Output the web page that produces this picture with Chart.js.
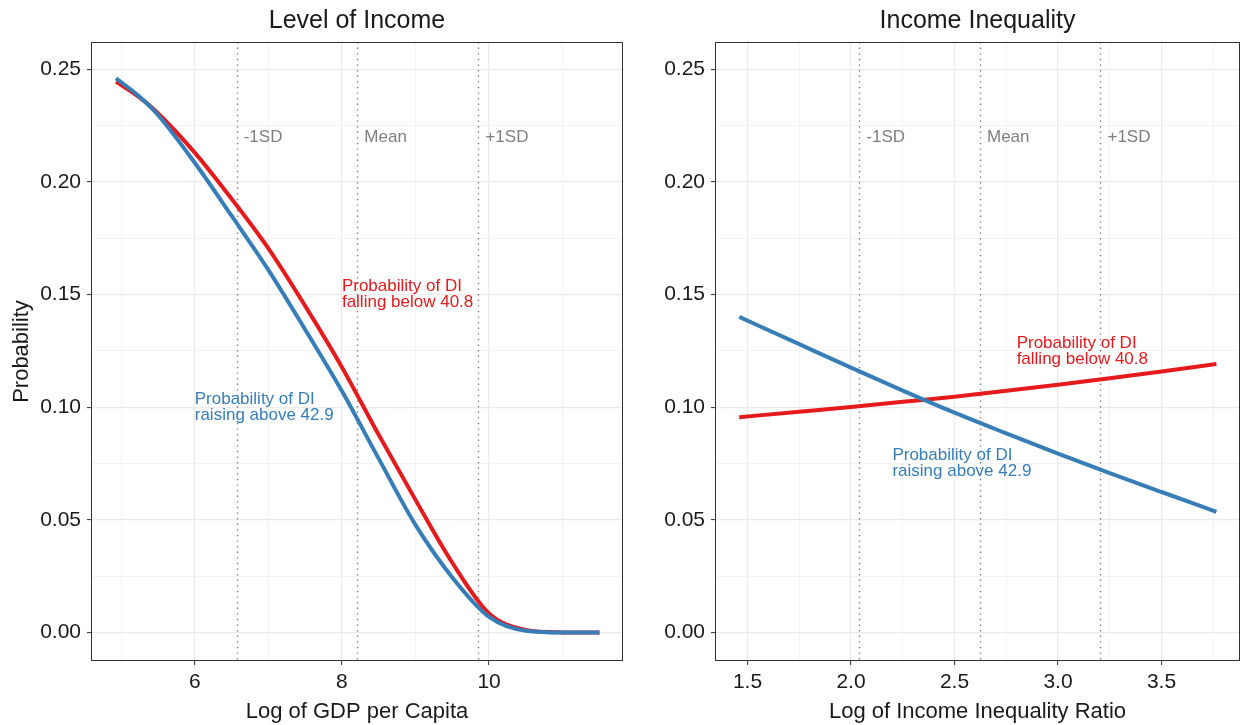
<!DOCTYPE html>
<html>
<head>
<meta charset="utf-8">
<script src="https://cdn.jsdelivr.net/npm/chart.js@4.4.1/dist/chart.umd.min.js"></script>
<style>
    html, body { margin: 0; padding: 0; background: #fff; }
    #wrap { position: relative; width: 1243px; height: 725px; }
    .panel { position: absolute; top: 0; height: 725px; }
    #p1 { left: 0; width: 630px; }
    #p2 { left: 630px; width: 613px; }
</style>
</head>
<body>
<div id="wrap">
    <div class="panel" id="p1"><canvas id="chart-income"></canvas></div>
    <div class="panel" id="p2"><canvas id="chart-inequality"></canvas></div>
</div>
<script>
// Level of income panel
const gdpX = [4.93, 5.25, 5.5, 6.0, 6.5, 7.0, 7.5, 8.0, 8.5, 9.0, 9.5, 10.0, 10.5, 11.0, 11.5];
const gdpFalling = [0.2445, 0.2375, 0.2305, 0.213, 0.1925, 0.1705, 0.145, 0.1178, 0.0878, 0.0589, 0.031, 0.0085, 0.0012, 0.0001, 0];
const gdpRaising = [0.246, 0.2378, 0.2297, 0.2085, 0.185, 0.161, 0.1345, 0.1072, 0.0772, 0.0478, 0.0245, 0.007, 0.0008, 0, 0];
const gdpSD = [6.57, 8.21, 9.855];
const gdpTicks = [6, 8, 10];
const gdpMinor = [5, 7, 9, 11];

// Income inequality panel
const ineqX = [1.46, 1.75, 2.0, 2.25, 2.5, 2.75, 3.0, 3.25, 3.5, 3.765];
const ineqFalling = [0.0956, 0.098, 0.1001, 0.1024, 0.1047, 0.1073, 0.11, 0.1129, 0.1159, 0.1192];
const ineqRaising = [0.1401, 0.128, 0.1176, 0.1074, 0.0976, 0.0884, 0.0794, 0.0708, 0.0624, 0.0536];
const ineqSD = [2.04, 2.623, 3.205];
const ineqTicks = [1.5, 2.0, 2.5, 3.0, 3.5];
const ineqMinor = [1.75, 2.25, 2.75, 3.25, 3.75];

const yTicks = [0, 0.05, 0.10, 0.15, 0.20, 0.25];
const yMinor = [0.025, 0.075, 0.125, 0.175, 0.225];
const sdLabels = ['-1SD', 'Mean', '+1SD'];

const RED = '#E41A1C';
const BLUE = '#377EB8';
const FONT = "'Liberation Sans', Arial, sans-serif";

function isMajor(v, list) {
    return list.some(t => Math.abs(t - v) < 1e-9);
}

function toPoints(xs, ys) {
    return xs.map((x, i) => ({ x: x, y: ys[i] }));
}

// border, title, sd reference lines and text labels
const panelDeco = {
    id: 'panelDeco',
    beforeDatasetsDraw(chart, args, opts) {
        const { ctx, chartArea: a, scales: { x } } = chart;
        ctx.save();
        ctx.strokeStyle = '#7f7f7f';
        ctx.lineWidth = 1.4;
        ctx.setLineDash([1.4, 4.2]);
        opts.sd.forEach(v => {
            const px = Math.round(x.getPixelForValue(v)) + 0.5;
            ctx.beginPath();
            ctx.moveTo(px, a.top);
            ctx.lineTo(px, a.bottom);
            ctx.stroke();
        });
        ctx.restore();
    },
    afterDraw(chart, args, opts) {
        const { ctx, chartArea: a, scales: { x, y } } = chart;
        ctx.save();
        ctx.strokeStyle = '#333333';
        ctx.lineWidth = 1;
        ctx.strokeRect(a.left + 0.5, a.top + 0.5, a.right - a.left - 1, a.bottom - a.top - 1);

        ctx.fillStyle = '#1a1a1a';
        ctx.font = '25px ' + FONT;
        ctx.textAlign = 'center';
        ctx.textBaseline = 'middle';
        ctx.fillText(opts.title, (a.left + a.right) / 2, 21);

        ctx.font = '17px ' + FONT;
        ctx.textAlign = 'left';
        ctx.fillStyle = '#7f7f7f';
        opts.sd.forEach((v, i) => {
            ctx.fillText(sdLabels[i], x.getPixelForValue(v) + 7, y.getPixelForValue(0.22));
        });

        opts.notes.forEach(n => {
            ctx.fillStyle = n.color;
            const cy = y.getPixelForValue(n.y);
            const px = x.getPixelForValue(n.x);
            n.lines.forEach((t, i) => {
                ctx.fillText(t, px, cy + (i - (n.lines.length - 1) / 2) * 16);
            });
        });
        ctx.restore();
    }
};

function makePanel(canvasId, cfg) {
    const ctx = document.getElementById(canvasId);
    return new Chart(ctx, {
        type: 'line',
        data: {
            datasets: [
                {
                    label: 'Probability of DI raising above 42.9',
                    data: toPoints(cfg.xs, cfg.raising),
                    borderColor: BLUE,
                    borderWidth: 4,
                    pointRadius: 0,
                    cubicInterpolationMode: 'monotone',
                    order: 0
                },
                {
                    label: 'Probability of DI falling below 40.8',
                    data: toPoints(cfg.xs, cfg.falling),
                    borderColor: RED,
                    borderWidth: 4,
                    pointRadius: 0,
                    cubicInterpolationMode: 'monotone',
                    order: 1
                }
            ]
        },
        options: {
            responsive: true,
            maintainAspectRatio: false,
            animation: false,
            layout: {
                padding: { left: 0, top: 42, right: cfg.padRight, bottom: 0 }
            },
            scales: {
                x: {
                    type: 'linear',
                    min: cfg.xMin,
                    max: cfg.xMax,
                    afterBuildTicks: s => {
                        s.ticks = cfg.ticks.concat(cfg.minor).sort((p, q) => p - q).map(v => ({ value: v }));
                    },
                    afterFit: s => { s.height = 64; },
                    border: { display: false },
                    grid: {
                        color: '#ebebeb',
                        lineWidth: c => (c.tick && isMajor(c.tick.value, cfg.ticks)) ? 1.2 : 0.6,
                        tickLength: 4,
                        tickColor: c => (c.tick && isMajor(c.tick.value, cfg.ticks)) ? '#333333' : 'rgba(0,0,0,0)',
                        tickWidth: 1
                    },
                    ticks: {
                        autoSkip: false,
                        maxRotation: 0,
                        padding: 5,
                        color: '#1a1a1a',
                        font: { family: FONT, size: 21 },
                        callback: v => isMajor(v, cfg.ticks) ? v.toFixed(cfg.digits) : ''
                    },
                    title: {
                        display: true,
                        text: cfg.xTitle,
                        color: '#1a1a1a',
                        font: { family: FONT, size: 22 },
                        padding: { top: 0, bottom: 0 }
                    }
                },
                y: {
                    min: -0.0126,
                    max: 0.2621,
                    afterBuildTicks: s => {
                        s.ticks = yTicks.concat(yMinor).sort((p, q) => p - q).map(v => ({ value: v }));
                    },
                    afterFit: s => { s.width = cfg.yWidth; },
                    border: { display: false },
                    grid: {
                        color: '#ebebeb',
                        lineWidth: c => (c.tick && isMajor(c.tick.value, yTicks)) ? 1.2 : 0.6,
                        tickLength: 4,
                        tickColor: c => (c.tick && isMajor(c.tick.value, yTicks)) ? '#333333' : 'rgba(0,0,0,0)',
                        tickWidth: 1
                    },
                    ticks: {
                        autoSkip: false,
                        padding: 6,
                        color: '#1a1a1a',
                        font: { family: FONT, size: 21 },
                        callback: v => isMajor(v, yTicks) ? v.toFixed(2) : ''
                    },
                    title: {
                        display: cfg.yTitle !== '',
                        text: cfg.yTitle,
                        color: '#1a1a1a',
                        font: { family: FONT, size: 22 },
                        padding: { top: 9, bottom: 0 }
                    }
                }
            },
            plugins: {
                legend: { display: false },
                tooltip: { enabled: false },
                panelDeco: {
                    title: cfg.title,
                    sd: cfg.sd,
                    notes: cfg.notes
                }
            }
        },
        plugins: [panelDeco]
    });
}

makePanel('chart-income', {
    title: 'Level of Income',
    xTitle: 'Log of GDP per Capita',
    yTitle: 'Probability',
    xs: gdpX,
    falling: gdpFalling,
    raising: gdpRaising,
    sd: gdpSD,
    ticks: gdpTicks,
    minor: gdpMinor,
    digits: 0,
    xMin: 4.59,
    xMax: 11.82,
    yWidth: 91,
    padRight: 7,
    notes: [
        { x: 8.0, y: 0.15, color: RED, lines: ['Probability of DI', 'falling below 40.8'] },
        { x: 6.0, y: 0.10, color: BLUE, lines: ['Probability of DI', 'raising above 42.9'] }
    ]
});

makePanel('chart-inequality', {
    title: 'Income Inequality',
    xTitle: 'Log of Income Inequality Ratio',
    yTitle: '',
    xs: ineqX,
    falling: ineqFalling,
    raising: ineqRaising,
    sd: ineqSD,
    ticks: ineqTicks,
    minor: ineqMinor,
    digits: 1,
    xMin: 1.343,
    xMax: 3.879,
    yWidth: 85,
    padRight: 3,
    notes: [
        { x: 2.8, y: 0.125, color: RED, lines: ['Probability of DI', 'falling below 40.8'] },
        { x: 2.2, y: 0.075, color: BLUE, lines: ['Probability of DI', 'raising above 42.9'] }
    ]
});
</script>
</body>
</html>
